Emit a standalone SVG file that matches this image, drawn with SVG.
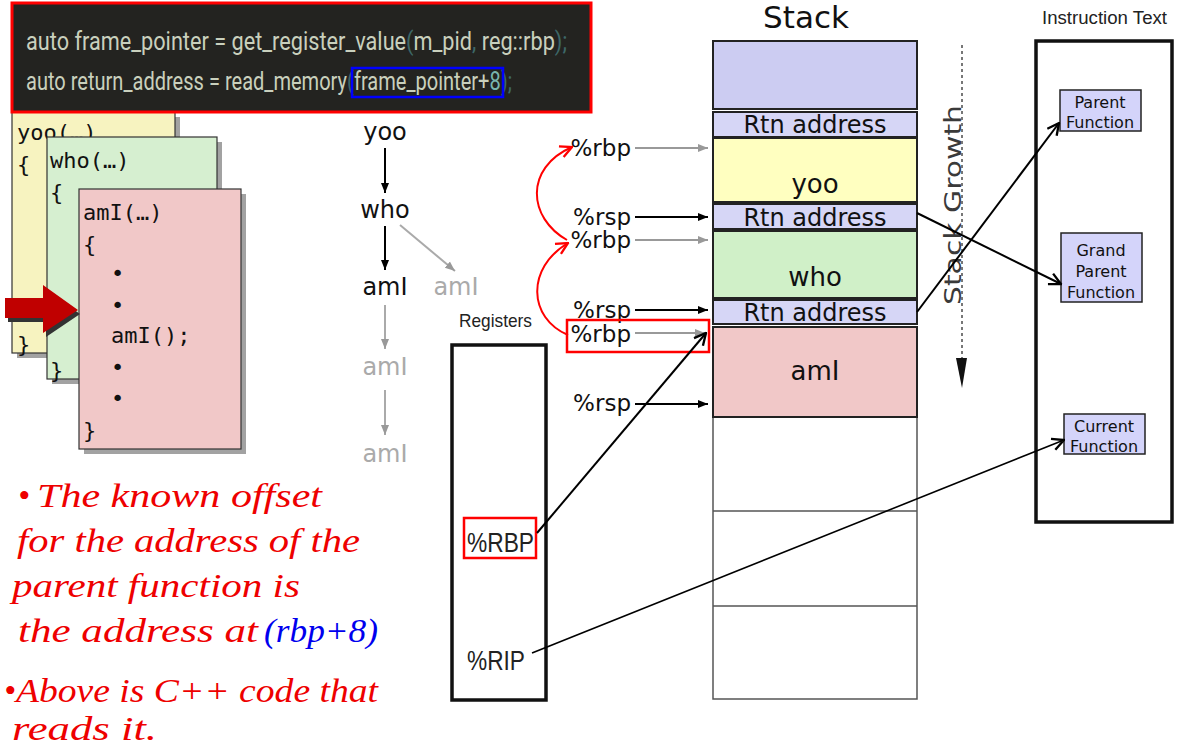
<svg xmlns="http://www.w3.org/2000/svg" width="1184" height="753" viewBox="0 0 1184 753">
<defs>
<marker id="ab" viewBox="0 0 10 10" refX="10" refY="5" markerWidth="10" markerHeight="10" markerUnits="userSpaceOnUse" orient="auto"><path d="M0,1 L10,5 L0,9 Z" fill="#000"/></marker>
<marker id="ag" viewBox="0 0 10 10" refX="10" refY="5" markerWidth="10" markerHeight="10" markerUnits="userSpaceOnUse" orient="auto"><path d="M0,1 L10,5 L0,9 Z" fill="#999"/></marker>
<marker id="ao" viewBox="0 0 12 12" refX="11" refY="6" markerWidth="14" markerHeight="14" markerUnits="userSpaceOnUse" orient="auto"><path d="M1,1 L11,6 L1,11" fill="none" stroke="#000" stroke-width="2"/></marker>
<marker id="ar" viewBox="0 0 12 12" refX="11" refY="6" markerWidth="14" markerHeight="14" markerUnits="userSpaceOnUse" orient="auto"><path d="M1,1 L11,6 L1,11" fill="none" stroke="#f00" stroke-width="2"/></marker>
</defs>
<style>
.code{font-family:Roboto,"Liberation Sans",sans-serif;font-size:25px;fill:#c9d0bd}
.dim{fill:#3d6868}
.mono{font-family:"DejaVu Sans Mono",monospace;font-size:22px;fill:#111}
.dv{font-family:"DejaVu Sans",sans-serif;fill:#111}
.ar{font-family:"Liberation Sans",Arial,sans-serif;fill:#222}
.hand{font-family:"Liberation Serif",serif;font-style:italic;font-size:34px;fill:#ee0000}
.cell{stroke:#222;stroke-width:2}
.thin{stroke:#555;stroke-width:1.5;fill:#fff}
.fn{fill:#d4d4fa;stroke:#222;stroke-width:1.5}
.sh{fill:#555;opacity:.55}
</style>
<rect width="1184" height="753" fill="#fff"/>

<!-- code cards -->
<g id="card-yoo">
<rect class="sh" x="17" y="117" width="163" height="241"/>
<rect x="12" y="112" width="163" height="241" fill="#f7f3c0" stroke="#333" stroke-width="1.2"/>
<text class="mono" x="17" y="140">yoo(…)</text>
<text class="mono" x="17" y="172">{</text>
<text class="mono" x="17" y="352">}</text>
</g>
<g id="card-who">
<rect class="sh" x="52" y="142" width="170" height="242"/>
<rect x="47" y="137" width="170" height="242" fill="#d6efd0" stroke="#333" stroke-width="1.2"/>
<text class="mono" x="50" y="168">who(…)</text>
<text class="mono" x="50" y="200">{</text>
<text class="mono" x="50" y="378">}</text>
</g>
<g id="card-ami">
<rect class="sh" x="84" y="194" width="162" height="260"/>
<rect x="79" y="189" width="162" height="260" fill="#f1c8c8" stroke="#333" stroke-width="1.2"/>
<text class="mono" x="83" y="220">amI(…)</text>
<text class="mono" x="83" y="252">{</text>
<text class="mono" x="111" y="281">•</text>
<text class="mono" x="111" y="313">•</text>
<text class="mono" x="111" y="343">amI();</text>
<text class="mono" x="111" y="375">•</text>
<text class="mono" x="111" y="406">•</text>
<text class="mono" x="83" y="438">}</text>
</g>
<g id="pointer-arrow">
<polygon points="8,303 46,303 46,290 80,314 46,337 46,322 8,322" fill="#333"/>
<polygon points="5,298 43,298 43,285 78,310 43,333 43,318 5,318" fill="#c00000"/>
</g>

<!-- code box -->
<g id="code">
<rect x="12" y="3" width="579" height="109" fill="#232320" stroke="#f00" stroke-width="3"/>
<text class="code" x="26" y="50" textLength="541" lengthAdjust="spacingAndGlyphs">auto frame_pointer = get_register_value<tspan class="dim">(</tspan>m_pid<tspan class="dim">, </tspan>reg::rbp<tspan class="dim">);</tspan></text>
<text class="code" x="26" y="90" textLength="486" lengthAdjust="spacingAndGlyphs">auto return_address = read_memory<tspan class="dim">(</tspan>frame_pointer+<tspan style="fill:#79b5ad">8</tspan><tspan class="dim">);</tspan></text>
<rect x="352" y="68" width="151" height="29" fill="none" stroke="#0000ff" stroke-width="2.5"/>
</g>

<!-- call tree -->
<g id="tree">
<text class="dv" x="385" y="140" font-size="24" text-anchor="middle">yoo</text>
<text class="dv" x="385" y="218" font-size="24" text-anchor="middle">who</text>
<text class="dv" x="385" y="295" font-size="24" text-anchor="middle">amI</text>
<text class="dv" x="456" y="295" font-size="24" text-anchor="middle" style="fill:#aaa">amI</text>
<text class="dv" x="385" y="375" font-size="24" text-anchor="middle" style="fill:#aaa">amI</text>
<text class="dv" x="385" y="462" font-size="24" text-anchor="middle" style="fill:#aaa">amI</text>
</g>

<!-- registers -->
<g id="registers">
<text class="ar" x="459" y="327" font-size="19" textLength="73" lengthAdjust="spacingAndGlyphs">Registers</text>
<rect x="452" y="345" width="94" height="355" fill="none" stroke="#111" stroke-width="3.5"/>
<rect x="464" y="518" width="72" height="40" fill="none" stroke="#f00" stroke-width="2.5"/>
<text class="ar" x="467" y="552" font-size="27" textLength="67" lengthAdjust="spacingAndGlyphs">%RBP</text>
<text class="ar" x="467" y="670" font-size="27" textLength="58" lengthAdjust="spacingAndGlyphs">%RIP</text>
</g>

<!-- pointer labels -->
<g id="pointers">
<text class="dv" x="631" y="156" font-size="23" text-anchor="end">%rbp</text>
<text class="dv" x="631" y="225" font-size="23" text-anchor="end">%rsp</text>
<text class="dv" x="631" y="248" font-size="23" text-anchor="end">%rbp</text>
<text class="dv" x="631" y="318" font-size="23" text-anchor="end">%rsp</text>
<text class="dv" x="631" y="342" font-size="23" text-anchor="end">%rbp</text>
<text class="dv" x="631" y="411" font-size="23" text-anchor="end">%rsp</text>
<rect x="567" y="320" width="142" height="32" fill="none" stroke="#f00" stroke-width="2.5"/>
</g>

<!-- stack -->
<g id="stack">
<text class="dv" x="806" y="28" font-size="31" text-anchor="middle">Stack</text>
<rect class="thin" x="713" y="416" width="204" height="283"/>
<line x1="713" y1="511" x2="917" y2="511" stroke="#555" stroke-width="1.5"/>
<line x1="713" y1="606" x2="917" y2="606" stroke="#555" stroke-width="1.5"/>
<rect class="cell" x="713" y="41" width="204" height="68" fill="#ccccf2"/>
<rect class="cell" x="713" y="112" width="204" height="25" fill="#d6d6f6"/>
<rect class="cell" x="713" y="138" width="204" height="64" fill="#ffffc0"/>
<rect class="cell" x="713" y="204" width="204" height="25" fill="#d6d6f6"/>
<rect class="cell" x="713" y="231" width="204" height="67" fill="#d0f0c8"/>
<rect class="cell" x="713" y="300" width="204" height="24" fill="#d6d6f6"/>
<rect class="cell" x="713" y="327" width="204" height="90" fill="#f1c8c8"/>
<text class="dv" x="815" y="133" font-size="24" text-anchor="middle">Rtn address</text>
<text class="dv" x="815" y="193" font-size="26" text-anchor="middle">yoo</text>
<text class="dv" x="815" y="226" font-size="24" text-anchor="middle">Rtn address</text>
<text class="dv" x="815" y="286" font-size="26" text-anchor="middle">who</text>
<text class="dv" x="815" y="321" font-size="24" text-anchor="middle">Rtn address</text>
<text class="dv" x="815" y="380" font-size="26" text-anchor="middle">amI</text>
</g>

<!-- stack growth -->
<g id="growth">
<text class="dv" x="0" y="0" font-size="23" text-anchor="middle" textLength="200" lengthAdjust="spacingAndGlyphs" transform="translate(961,205) rotate(-90)" style="fill:#3a3a3a">Stack Growth</text>
<line x1="962" y1="45" x2="962" y2="360" stroke="#777" stroke-width="2" stroke-dasharray="3,3"/>
<polygon points="956,358 967,358 962,388" fill="#111"/>
</g>

<!-- instruction text -->
<g id="instr">
<text class="ar" x="1042" y="24" font-size="18" textLength="125" lengthAdjust="spacingAndGlyphs">Instruction Text</text>
<rect x="1036" y="41" width="136" height="481" fill="none" stroke="#111" stroke-width="3.5"/>
</g>
<g id="fn-parent">
<rect class="fn" x="1060" y="90" width="81" height="41"/>
<text class="dv" x="1100" y="108" font-size="16" text-anchor="middle">Parent</text>
<text class="dv" x="1100" y="128" font-size="16" text-anchor="middle">Function</text>
</g>
<g id="fn-grand">
<rect class="fn" x="1061" y="233" width="81" height="69"/>
<text class="dv" x="1101" y="256" font-size="16" text-anchor="middle">Grand</text>
<text class="dv" x="1101" y="277" font-size="16" text-anchor="middle">Parent</text>
<text class="dv" x="1101" y="298" font-size="16" text-anchor="middle">Function</text>
</g>
<g id="fn-current">
<rect class="fn" x="1064" y="414" width="81" height="40"/>
<text class="dv" x="1104" y="432" font-size="16" text-anchor="middle">Current</text>
<text class="dv" x="1104" y="452" font-size="16" text-anchor="middle">Function</text>
</g>

<!-- connectors -->
<g id="connectors" fill="none">
<line x1="385" y1="148" x2="385" y2="193" stroke="#000" stroke-width="2" marker-end="url(#ab)"/>
<line x1="385" y1="226" x2="385" y2="270" stroke="#000" stroke-width="2" marker-end="url(#ab)"/>
<line x1="400" y1="225" x2="455" y2="271" stroke="#aaa" stroke-width="2" marker-end="url(#ag)"/>
<line x1="385" y1="305" x2="385" y2="349" stroke="#aaa" stroke-width="2" marker-end="url(#ag)"/>
<line x1="385" y1="390" x2="385" y2="435" stroke="#aaa" stroke-width="2" marker-end="url(#ag)"/>
<line x1="635" y1="148" x2="708" y2="148" stroke="#999" stroke-width="2" marker-end="url(#ag)"/>
<line x1="635" y1="217" x2="708" y2="217" stroke="#000" stroke-width="2" marker-end="url(#ab)"/>
<line x1="635" y1="240" x2="708" y2="240" stroke="#999" stroke-width="2" marker-end="url(#ag)"/>
<line x1="635" y1="310" x2="708" y2="310" stroke="#000" stroke-width="2" marker-end="url(#ab)"/>
<line x1="635" y1="333" x2="705" y2="333" stroke="#999" stroke-width="2" marker-end="url(#ag)"/>
<line x1="635" y1="404" x2="708" y2="404" stroke="#000" stroke-width="2" marker-end="url(#ab)"/>
<path d="M567,240 C528,218 524,168 572,147" stroke="#f00" stroke-width="2" marker-end="url(#ar)"/>
<path d="M568,335 C528,318 526,268 568,243" stroke="#f00" stroke-width="2" marker-end="url(#ar)"/>
<line x1="537" y1="533" x2="706" y2="333" stroke="#000" stroke-width="2" marker-end="url(#ao)"/>
<line x1="532" y1="653" x2="1064" y2="440" stroke="#000" stroke-width="1.6" marker-end="url(#ao)"/>
<line x1="917" y1="213" x2="1061" y2="284" stroke="#000" stroke-width="2" marker-end="url(#ao)"/>
<line x1="917" y1="312" x2="1059" y2="123" stroke="#000" stroke-width="2" marker-end="url(#ao)"/>
</g>

<!-- handwritten notes -->
<g id="notes">
<text class="hand" x="18" y="507">•</text>
<text class="hand" x="37" y="507" textLength="285" lengthAdjust="spacingAndGlyphs">The known offset</text>
<text class="hand" x="17" y="552" textLength="343" lengthAdjust="spacingAndGlyphs">for the address of the</text>
<text class="hand" x="12" y="597" textLength="288" lengthAdjust="spacingAndGlyphs">parent function is</text>
<text class="hand" x="18" y="642" textLength="240" lengthAdjust="spacingAndGlyphs">the address at</text>
<text class="hand" x="264" y="642" textLength="114" lengthAdjust="spacingAndGlyphs" style="fill:#0000ee">(rbp+8)</text>
<text class="hand" x="4" y="702">•</text>
<text class="hand" x="16" y="702" textLength="362" lengthAdjust="spacingAndGlyphs">Above is C++ code that</text>
<text class="hand" x="12" y="740" textLength="145" lengthAdjust="spacingAndGlyphs">reads it.</text>
</g>
</svg>
